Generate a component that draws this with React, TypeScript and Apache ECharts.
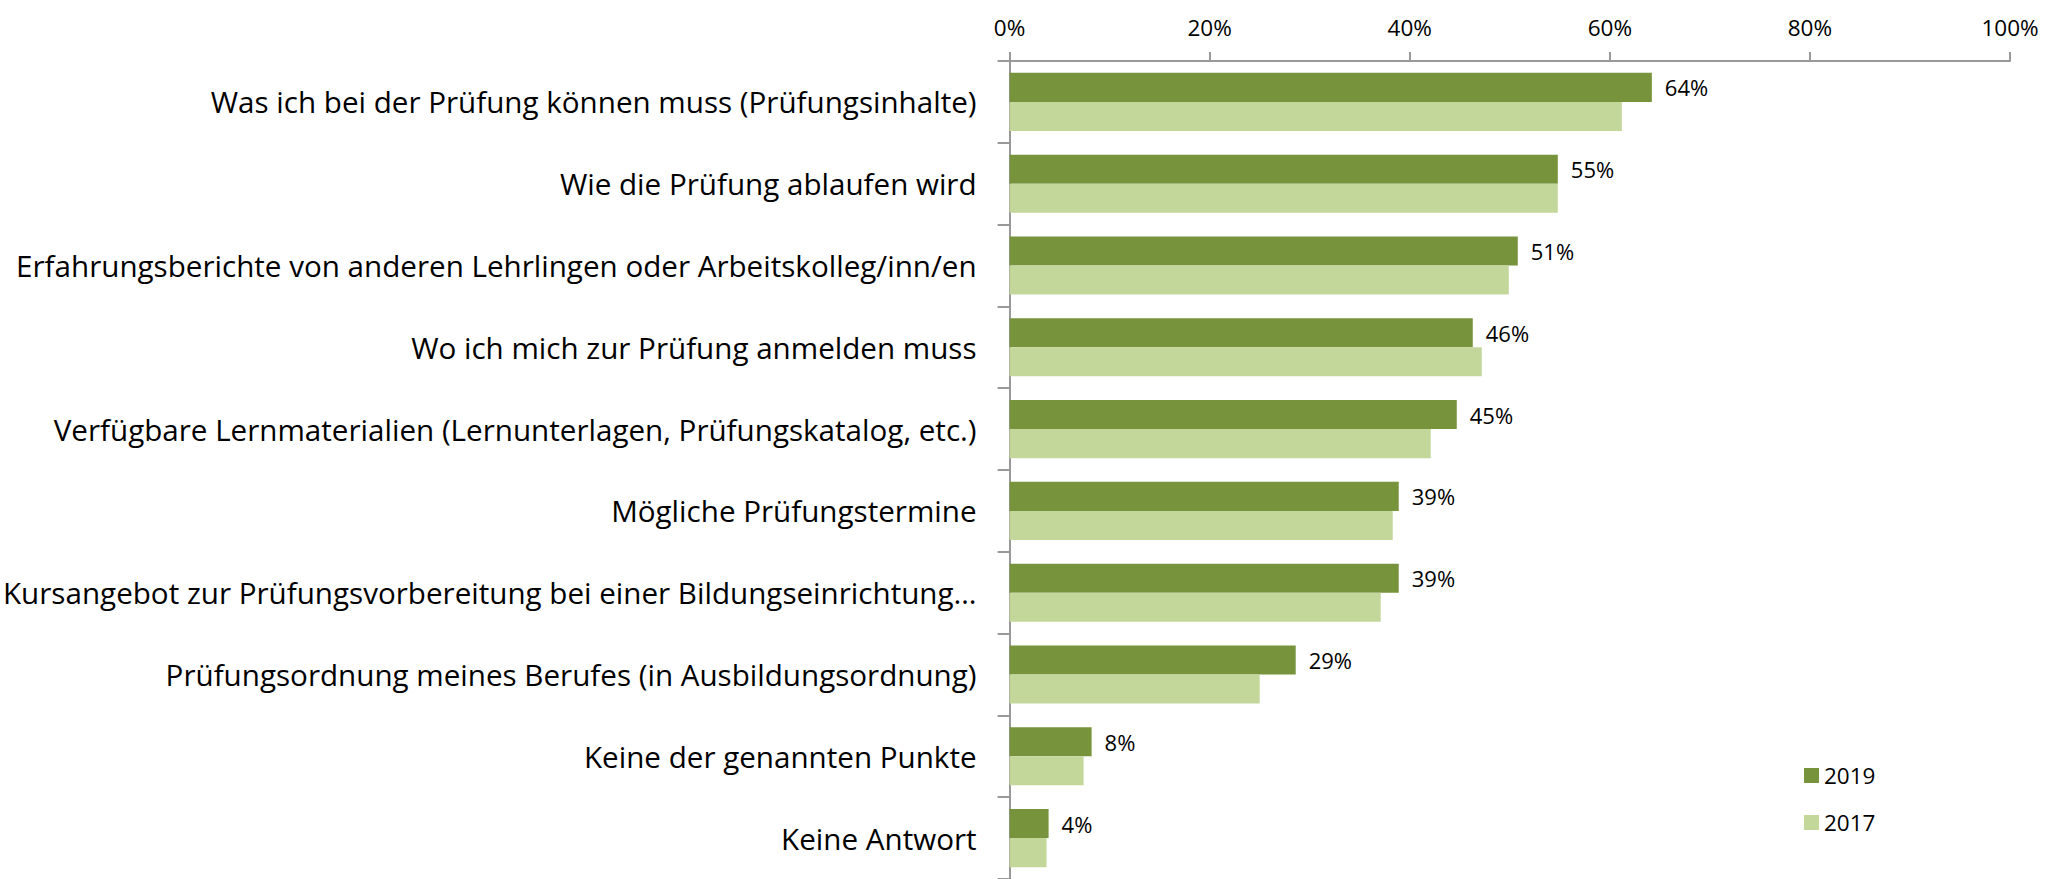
import React, { useEffect, useRef } from "react";
import * as echarts from "echarts";

const categories = [
  "Was ich bei der Prüfung können muss (Prüfungsinhalte)",
  "Wie die Prüfung ablaufen wird",
  "Erfahrungsberichte von anderen Lehrlingen oder Arbeitskolleg/inn/en",
  "Wo ich mich zur Prüfung anmelden muss",
  "Verfügbare Lernmaterialien (Lernunterlagen, Prüfungskatalog, etc.)",
  "Mögliche Prüfungstermine",
  "Kursangebot zur Prüfungsvorbereitung bei einer Bildungseinrichtung…",
  "Prüfungsordnung meines Berufes (in Ausbildungsordnung)",
  "Keine der genannten Punkte",
  "Keine Antwort",
];

const values2019 = [64.2, 54.8, 50.8, 46.3, 44.7, 38.9, 38.9, 28.6, 8.2, 3.9];
const values2017 = [61.2, 54.8, 49.9, 47.2, 42.1, 38.3, 37.1, 25.0, 7.4, 3.7];

const seriesNames = ["2019", "2017"];
const colors = ["#77933c", "#c4d79b"];

const FONT = "'Open Sans', 'Noto Sans', sans-serif";

export default function App() {
  const ref = useRef<HTMLDivElement>(null);

  useEffect(() => {
    if (!ref.current) return;
    const chart = echarts.init(ref.current, undefined, { renderer: "svg" });
    chart.setOption({
      animation: false,
      backgroundColor: "#ffffff",
      textStyle: { fontFamily: FONT },
      grid: { left: 1005, top: 61, width: 1005, height: 821 },
      legend: {
        orient: "vertical",
        left: 1799,
        top: 759,
        icon: "rect",
        itemWidth: 15,
        itemHeight: 15,
        itemGap: 24,
        data: seriesNames,
        textStyle: { fontFamily: FONT, fontSize: 22.5, color: "#000", lineHeight: 15 },
      },
      xAxis: {
        type: "value",
        position: "top",
        min: 0,
        max: 100,
        interval: 20,
        splitLine: { show: false },
        axisLine: { show: true, lineStyle: { color: "#999", width: 2 } },
        axisTick: { show: true, length: 9, lineStyle: { color: "#999", width: 2 } },
        axisLabel: {
          formatter: "{value}%",
          fontFamily: FONT,
          fontSize: 22.5,
          color: "#000",
          margin: 22,
        },
      },
      yAxis: {
        type: "category",
        inverse: true,
        data: categories,
        axisLine: { show: true, lineStyle: { color: "#999", width: 2 } },
        axisTick: { show: true, length: 12, lineStyle: { color: "#999", width: 2 } },
        axisLabel: {
          fontFamily: FONT,
          fontSize: 29.6,
          color: "#000",
          margin: 33,
        },
      },
      series: [
        {
          name: seriesNames[0],
          type: "bar",
          data: values2019,
          barGap: "0%",
          barCategoryGap: "29%",
          itemStyle: { color: colors[0] },
          label: {
            show: true,
            position: "right",
            distance: 13,
            formatter: (p: any) => Math.round(p.value) + "%",
            fontFamily: FONT,
            fontSize: 22,
            color: "#000",
          },
        },
        {
          name: seriesNames[1],
          type: "bar",
          data: values2017,
          barGap: "0%",
          barCategoryGap: "29%",
          itemStyle: { color: colors[1] },
        },
      ],
    });
    return () => chart.dispose();
  }, []);

  return (
    <div
      ref={ref}
      style={{ position: "fixed", left: 0, top: 0, width: 2045, height: 879 }}
    />
  );
}
